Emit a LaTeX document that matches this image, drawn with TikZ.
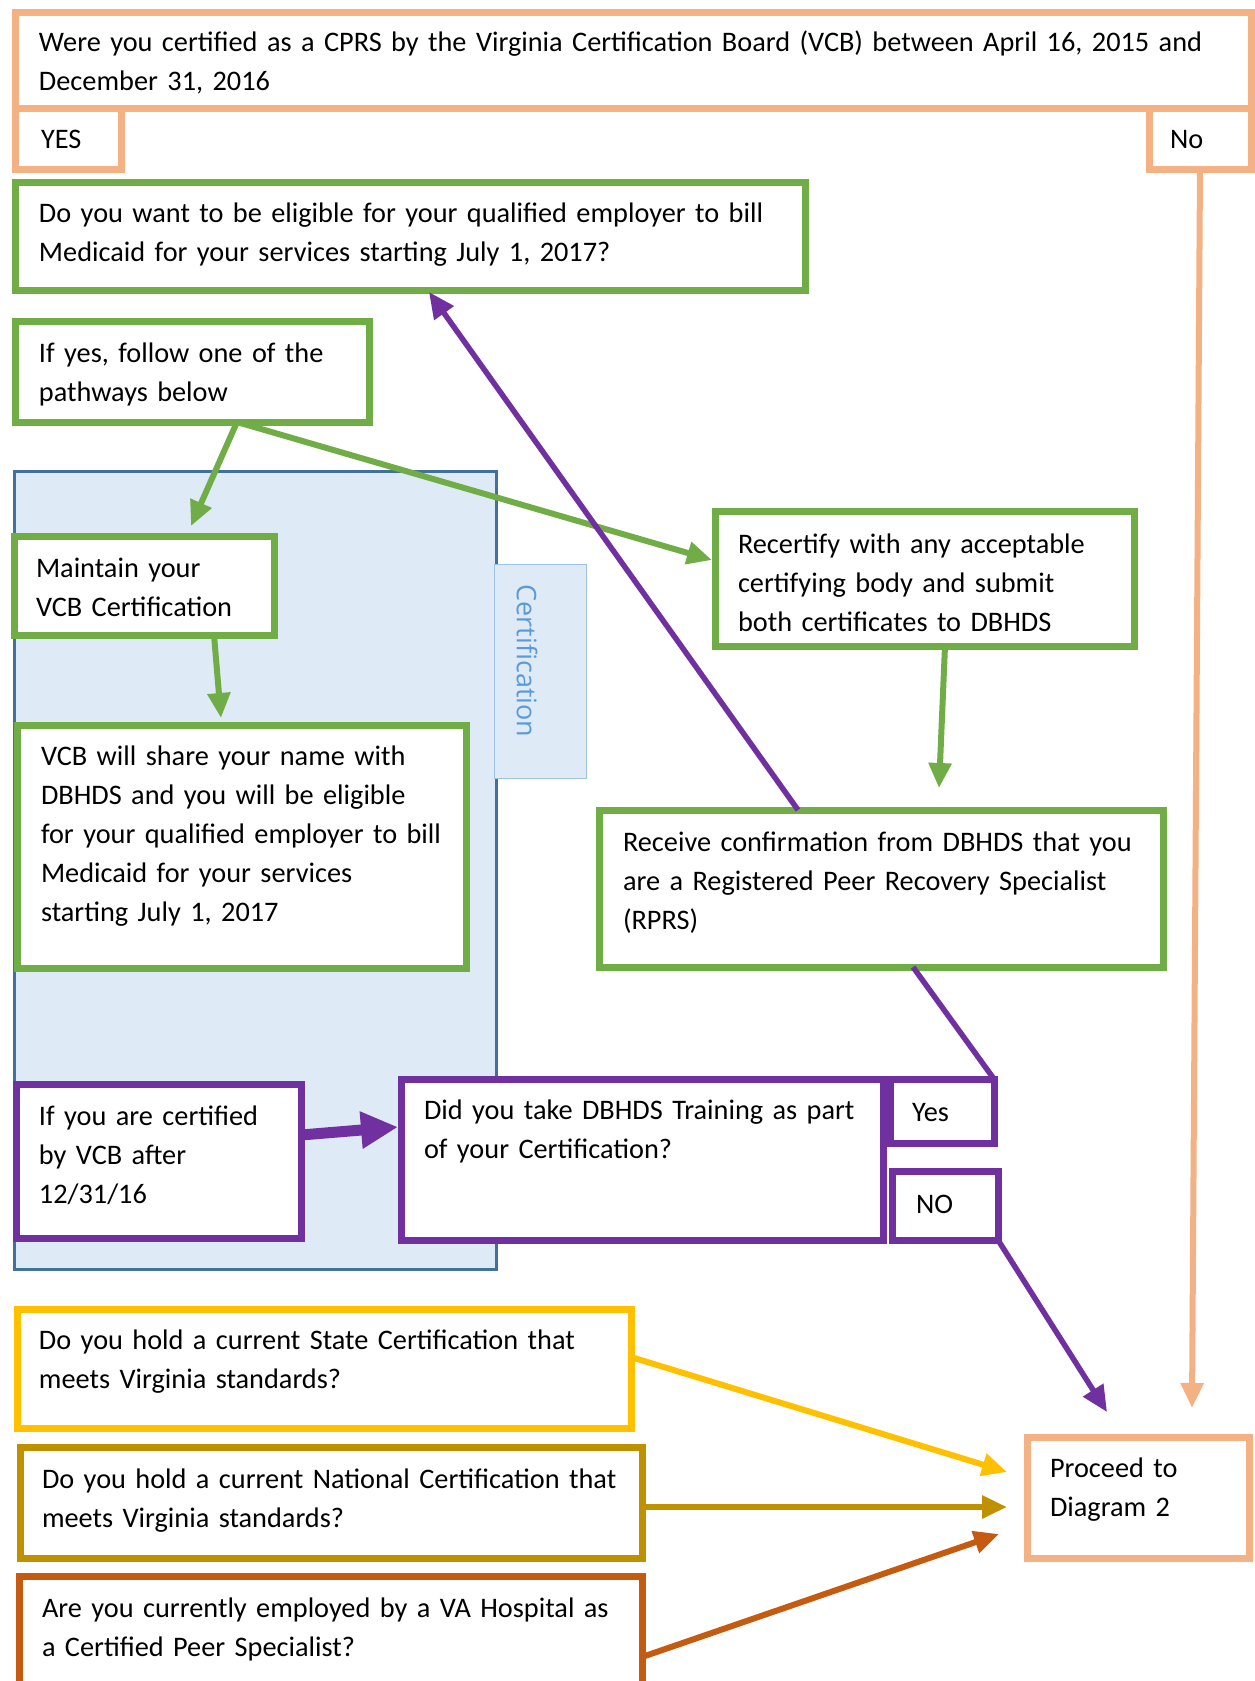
\documentclass[tikz,border=0pt]{standalone}
\usepackage{fontspec}
\setmainfont{Carlito}
\newfontfamily\tabfont{Open Sans}
\usetikzlibrary{arrows.meta}
\definecolor{peach}{HTML}{F4B183}
\definecolor{grn}{HTML}{70AD47}
\definecolor{purp}{HTML}{7030A0}
\definecolor{bluefill}{HTML}{DEEBF7}
\definecolor{blueline}{HTML}{41719C}
\definecolor{tabline}{HTML}{9DC3E6}
\definecolor{tabtext}{HTML}{5B9BD5}
\definecolor{yel}{HTML}{FFC000}
\definecolor{gold}{HTML}{BF9000}
\definecolor{orng}{HTML}{C55A11}
\newcommand\bx[6]{\node[#6, anchor=north west, minimum width={(#4-#2)*0.5pt}, minimum height={(#5-#3)*0.5pt}] (#1) at (#2,#3) {};}
\tikzset{
  box/.style={draw, fill=white, inner sep=0pt, outer sep=0pt, line width=3.5pt},
  pbox/.style={box, draw=peach},
  gbox/.style={box, draw=grn},
  vbox/.style={box, draw=purp},
  txt/.style={anchor=base west, inner sep=0pt, outer sep=0pt, align=left, text width=#1, font=\fontsize{14.15}{19.5}\selectfont},
  txt/.default=600pt,
  arr/.style={line width=3pt, -{Triangle[length=12.5pt, width=11pt]}},
  parr/.style={line width=2.75pt, -{Triangle[length=13pt, width=11.5pt]}},
}
\begin{document}
\begin{tikzpicture}[x=0.5pt,y=-0.5pt]
\useasboundingbox (0,0) rectangle (1254,1681);
% background region
\node[draw=blueline, fill=bluefill, line width=1.5pt, anchor=north west, minimum width={482*0.5pt}, minimum height={798*0.5pt}, inner sep=0pt] (region) at (13,470) {};
\node[draw=tabline, fill=bluefill, line width=0.6pt, anchor=north west, minimum width={92*0.5pt}, minimum height={214*0.5pt}, inner sep=0pt] (tab) at (494,564) {};
\node[rotate=-90, text=tabtext, font=\tabfont\fontsize{13.5}{16}\selectfont, inner sep=0pt] (tablabel) at (527,661) {Certification};
% boxes
\bx{top}{15}{12}{1251}{108}{pbox}
\bx{yes}{15}{108}{121}{169}{pbox}
\bx{no}{1149}{108}{1251}{169}{pbox}
\bx{want}{15}{182}{805}{290}{gbox}
\bx{ifyes}{15}{321}{369}{422}{gbox}
\bx{maintain}{14}{536}{274}{635}{gbox}
\bx{share}{17}{725}{466}{968}{gbox}
\bx{recert}{715}{511}{1134}{646}{gbox}
\bx{receive}{599}{810}{1163}{967}{gbox}
\bx{ifyou}{16}{1084}{301}{1238}{vbox}
\bx{did}{401}{1079}{883}{1240}{vbox}
\bx{yestwo}{890}{1079}{994}{1143}{vbox}
\bx{notwo}{892}{1171}{998}{1240}{vbox}
\bx{state}{17}{1309}{631}{1428}{box, draw=yel}
\bx{national}{20}{1447}{642}{1558}{box, draw=gold}
\bx{va}{19}{1576}{642}{1710}{box, draw=orng}
\bx{proceed}{1027}{1437}{1249}{1558}{pbox}
% texts
\node[txt] (t-top) at (39,51) {Were you certified as a CPRS by the Virginia Certification Board (VCB) between April 16, 2015 and\\December 31, 2016};
\node[txt] (t-yes) at (41,148) {YES};
\node[txt] (t-no) at (1170,148) {No};
\node[txt] (t-want) at (39,222) {Do you want to be eligible for your qualified employer to bill\\Medicaid for your services starting July 1, 2017?};
\node[txt] (t-ifyes) at (39,362) {If yes, follow one of the\\pathways below};
\node[txt] (t-maintain) at (36,577) {Maintain your\\VCB Certification};
\node[txt] (t-recert) at (738,553) {Recertify with any acceptable\\certifying body and submit\\both certificates to DBHDS};
\node[txt] (t-share) at (41,765) {VCB will share your name with\\DBHDS and you will be eligible\\for your qualified employer to bill\\Medicaid for your services\\starting July 1, 2017};
\node[txt] (t-receive) at (623,851) {Receive confirmation from DBHDS that you\\are a Registered Peer Recovery Specialist\\(RPRS)};
\node[txt] (t-ifyou) at (39,1125) {If you are certified\\by VCB after\\12/31/16};
\node[txt] (t-did) at (424,1119) {Did you take DBHDS Training as part\\of your Certification?};
\node[txt] (t-yestwo) at (912,1121) {Yes};
\node[txt] (t-notwo) at (916,1213) {NO};
\node[txt] (t-state) at (39,1349) {Do you hold a current State Certification that\\meets Virginia standards?};
\node[txt] (t-national) at (42,1488) {Do you hold a current National Certification that\\meets Virginia standards?};
\node[txt] (t-va) at (42,1617) {Are you currently employed by a VA Hospital as\\a Certified Peer Specialist?};
\node[txt] (t-proceed) at (1050,1477) {Proceed to\\Diagram 2};
% connector end points
\coordinate (ifyes-s) at (237,422);
\coordinate (maintain-n) at (191,526);
\coordinate (recert-w) at (712,560);
\coordinate (maintain-s) at (214,635);
\coordinate (share-n) at (221,718);
\coordinate (recert-s) at (945,646);
\coordinate (receive-n) at (939,788);
\coordinate (receive-top) at (798,810);
\coordinate (want-s) at (429,292);
\coordinate (receive-bot) at (913,967);
\coordinate (ifyou-e) at (301,1135);
\coordinate (did-w) at (398,1127);
\coordinate (proceed-n1) at (1107,1412);
\coordinate (proceed-n2) at (1192,1408);
\coordinate (state-e) at (631,1357);
\coordinate (proceed-w1) at (1007,1472);
\coordinate (national-e) at (642,1507);
\coordinate (proceed-w2) at (1007,1507);
\coordinate (va-e) at (642,1657);
\coordinate (proceed-w3) at (999,1534);
% connectors
\draw[arr, draw=peach, fill=peach] (no.south) -- (proceed-n2);
\draw[arr, draw=grn, fill=grn] (ifyes-s) -- (maintain-n);
\draw[arr, draw=grn, fill=grn] (ifyes-s) -- (recert-w);
\draw[arr, draw=grn, fill=grn] (maintain-s) -- (share-n);
\draw[arr, draw=grn, fill=grn] (recert-s) -- (receive-n);
\draw[parr, draw=purp, fill=purp] (receive-top) -- (want-s);
\draw[line width=2.75pt, draw=purp] (receive-bot) -- (yestwo.north east);
\draw[line width=5.5pt, draw=purp, -{Triangle[length=18.5pt, width=17.5pt]}] (ifyou-e) -- (did-w);
\draw[parr, draw=purp] (notwo.south east) -- (proceed-n1);
\draw[arr, draw=yel] (state-e) -- (proceed-w1);
\draw[arr, draw=gold] (national-e) -- (proceed-w2);
\draw[arr, draw=orng] (va-e) -- (proceed-w3);
\end{tikzpicture}
\end{document}
